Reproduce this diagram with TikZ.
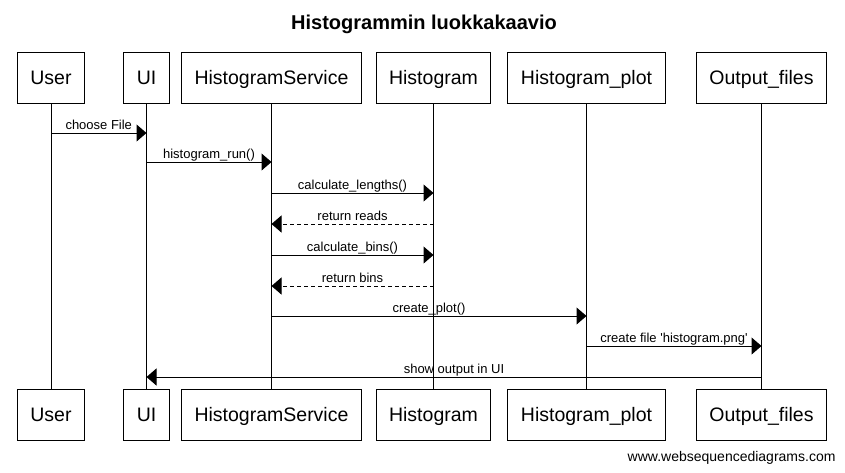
\documentclass[tikz,border=0pt]{standalone}
\usepackage{fontspec}
\newfontfamily\seqfont{Liberation Sans}
\usetikzlibrary{arrows.meta}

\begin{document}
\begin{tikzpicture}[x=1pt, y=-1pt, line width=1pt,
        actor/.style={draw, rectangle, minimum height=51pt, inner xsep=13pt,
            text height=14pt, text depth=0pt,
            font=\seqfont\fontsize{19.5}{22}\selectfont},
        call/.style={-{Triangle[length=10pt,width=17pt]}},
        reply/.style={call, dash pattern=on 4pt off 3pt},
        lbl/.style={midway, anchor=base, yshift=3.5pt, inner sep=0pt,
            font=\seqfont\fontsize{13}{15}\selectfont}]
        \useasboundingbox (0,0) rectangle (845,472);

        \node[anchor=base, font=\seqfont\bfseries\fontsize{20}{24}\selectfont] (title) at (424,29) {Histogrammin luokkakaavio};

        % participants, top row
        \node[actor] (userT) at (51,77.5) {User};
        \node[actor] (uiT) at (146.5,77.5) {UI};
        \node[actor] (serviceT) at (271.5,77.5) {HistogramService};
        \node[actor] (histT) at (433.5,77.5) {Histogram};
        \node[actor] (plotT) at (586.5,77.5) {Histogram\_plot};
        \node[actor] (filesT) at (761.5,77.5) {Output\_files};

        % participants, bottom row
        \node[actor] (userB) at (51,414.5) {User};
        \node[actor] (uiB) at (146.5,414.5) {UI};
        \node[actor] (serviceB) at (271.5,414.5) {HistogramService};
        \node[actor] (histB) at (433.5,414.5) {Histogram};
        \node[actor] (plotB) at (586.5,414.5) {Histogram\_plot};
        \node[actor] (filesB) at (761.5,414.5) {Output\_files};

        % lifelines
        \draw (userT) -- (userB);
        \draw (uiT) -- (uiB);
        \draw (serviceT) -- (serviceB);
        \draw (histT) -- (histB);
        \draw (plotT) -- (plotB);
        \draw (filesT) -- (filesB);

        % message ends
        \coordinate (chooseA) at (51,133);
        \coordinate (chooseB) at (146.5,133);
        \coordinate (runA) at (146.5,162);
        \coordinate (runB) at (271.5,162);
        \coordinate (lengthsA) at (271.5,193);
        \coordinate (lengthsB) at (433.5,193);
        \coordinate (readsA) at (433.5,224);
        \coordinate (readsB) at (271.5,224);
        \coordinate (binsA) at (271.5,255);
        \coordinate (binsB) at (433.5,255);
        \coordinate (retbinsA) at (433.5,286);
        \coordinate (retbinsB) at (271.5,286);
        \coordinate (plotA) at (271.5,316);
        \coordinate (plotC) at (586.5,316);
        \coordinate (fileA) at (586.5,346);
        \coordinate (fileB) at (761.5,346);
        \coordinate (showA) at (761.5,377);
        \coordinate (showB) at (146.5,377);

        % messages
        \draw[call] (chooseA) -- node[lbl] {choose File} (chooseB);
        \draw[call] (runA) -- node[lbl] {histogram\_run()} (runB);
        \draw[call] (lengthsA) -- node[lbl] {calculate\_lengths()} (lengthsB);
        \draw[reply] (readsA) -- node[lbl] {return reads} (readsB);
        \draw[call] (binsA) -- node[lbl] {calculate\_bins()} (binsB);
        \draw[reply] (retbinsA) -- node[lbl] {return bins} (retbinsB);
        \draw[call] (plotA) -- node[lbl] {create\_plot()} (plotC);
        \draw[call] (fileA) -- node[lbl] {create file 'histogram.png'} (fileB);
        \draw[call] (showA) -- node[lbl] {show output in UI} (showB);

        \node[anchor=base east, inner sep=0pt, font=\seqfont\fontsize{14}{16}\selectfont] (credit) at (836,461) {www.websequencediagrams.com};
\end{tikzpicture}
\end{document}
